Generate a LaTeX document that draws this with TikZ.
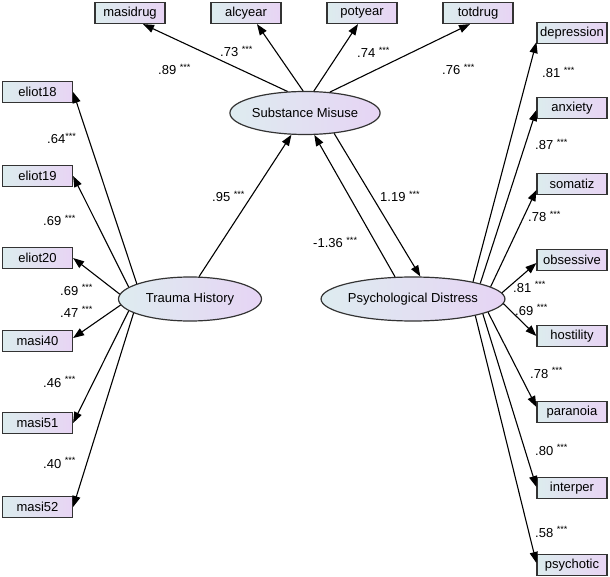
\documentclass[tikz,border=0pt]{standalone}
\usepackage{fontspec}
\setmainfont{Liberation Sans}
\usetikzlibrary{arrows.meta,shapes.geometric}
\definecolor{boxL}{RGB}{220,236,238}
\definecolor{boxR}{RGB}{232,212,244}
\definecolor{ellL}{RGB}{222,236,240}
\definecolor{ellR}{RGB}{230,212,244}
\newcommand\mystars{\textsuperscript{***}}
\begin{document}
\begin{tikzpicture}[x=1pt,y=-1pt,
  obs/.style={draw=black!80,line width=1.2pt,left color=boxL,right color=boxR,
    minimum width=70pt,minimum height=21pt,inner sep=0pt,font=\fontsize{13}{15}\selectfont},
  lat/.style={ellipse,draw=black!80,line width=1.2pt,left color=ellL,right color=ellR,
    minimum width=143pt,minimum height=43pt,inner sep=0pt,font=\fontsize{13}{15}\selectfont},
  arr/.style={line width=1.1pt,-{Triangle[length=11pt,width=8pt]}},
  lab/.style={anchor=base west,inner sep=0pt,font=\fontsize{13}{15}\selectfont}
]
\useasboundingbox (0,0) rectangle (610,577);
% latent variables
\node[lat] (sm) at (305,113) {Substance Misuse};
\node[lat,minimum height=44pt] (th) at (190,299) {Trauma History};
\node[lat,minimum width=144pt,minimum height=44pt] (pd) at (413,299) {Psychological Distress};
% top indicators
\node[obs] (masidrug) at (130,13) {masidrug};
\node[obs] (alcyear) at (246,13) {alcyear};
\node[obs] (potyear) at (362,13) {potyear};
\node[obs] (totdrug) at (478,13) {totdrug};
% left indicators
\node[obs] (eliot18) at (37.5,92) {eliot18};
\node[obs] (eliot19) at (37.5,176) {eliot19};
\node[obs] (eliot20) at (37.5,258) {eliot20};
\node[obs] (masi40) at (37.5,341) {masi40};
\node[obs] (masi51) at (37.5,423) {masi51};
\node[obs] (masi52) at (37.5,507) {masi52};
% right indicators
\node[obs] (depression) at (572,33) {depression};
\node[obs] (anxiety) at (572,108) {anxiety};
\node[obs] (somatiz) at (572,184) {somatiz};
\node[obs] (obsessive) at (572,260) {obsessive};
\node[obs] (hostility) at (572,336) {hostility};
\node[obs] (paranoia) at (572,412) {paranoia};
\node[obs] (interper) at (572,488) {interper};
\node[obs] (psychotic) at (572,565) {psychotic};
% connectors
\draw[arr] (sm.129) -- ([xshift=13pt]masidrug.south);
\draw[arr] (sm.95) -- ([xshift=11pt]alcyear.south);
\draw[arr] (sm.68) -- ([xshift=-4pt]potyear.south);
\draw[arr] (sm.40) -- ([xshift=-8pt]totdrug.south);
\draw[arr] (th.68) -- (sm.238);
\draw[arr] (pd.129) -- (sm.293);
\draw[arr] (sm.325) -- (pd.72);
\draw[arr] (th.164) -- (eliot18.east);
\draw[arr] (th.169) -- (eliot19.east);
\draw[arr] (th.176) -- (eliot20.east);
\draw[arr] (th.185) -- ([yshift=3pt]masi40.east);
\draw[arr] (th.191) -- (masi51.east);
\draw[arr] (th.194) -- (masi52.east);
\draw[arr] (pd.16) -- ([yshift=2pt]depression.south west);
\draw[arr] (pd.13) -- ([yshift=-2pt]anxiety.west);
\draw[arr] (pd.9.5) -- ([yshift=-6pt]somatiz.west);
\draw[arr] (pd.4) -- ([yshift=-3pt]obsessive.west);
\draw[arr] (pd.357) -- (hostility.west);
\draw[arr] (pd.350.4) -- ([yshift=5pt]paranoia.west);
\draw[arr] (pd.348) -- ([yshift=1pt]interper.west);
\draw[arr] (pd.345) -- ([yshift=2pt]psychotic.west);
% labels
\node[lab] (l1) at (158,75) {.89 \mystars};
\node[lab] (l2) at (220,57) {.73 \mystars};
\node[lab] (l3) at (357,58) {.74 \mystars};
\node[lab] (l4) at (442,75) {.76 \mystars};
\node[lab] (l5) at (542,78) {.81 \mystars};
\node[lab] (l6) at (535,150) {.87 \mystars};
\node[lab] (l7) at (528,222) {.78 \mystars};
\node[lab] (l8) at (513,292) {.81 \mystars};
\node[lab] (l9) at (515,315) {.69 \mystars};
\node[lab] (l10) at (530,378) {.78 \mystars};
\node[lab] (l11) at (535,455) {.80 \mystars};
\node[lab] (l12) at (535,537) {.58 \mystars};
\node[lab] (l13) at (380,202) {1.19 \mystars};
\node[lab] (l14) at (313,248) {-1.36 \mystars};
\node[lab] (l15) at (212,202) {.95 \mystars};
\node[lab] (l16) at (47,144) {.64\mystars};
\node[lab] (l17) at (43,226) {.69 \mystars};
\node[lab] (l18) at (60,295) {.69 \mystars};
\node[lab] (l19) at (60,317) {.47 \mystars};
\node[lab] (l20) at (43,387) {.46 \mystars};
\node[lab] (l21) at (43,468) {.40 \mystars};
\end{tikzpicture}
\end{document}
